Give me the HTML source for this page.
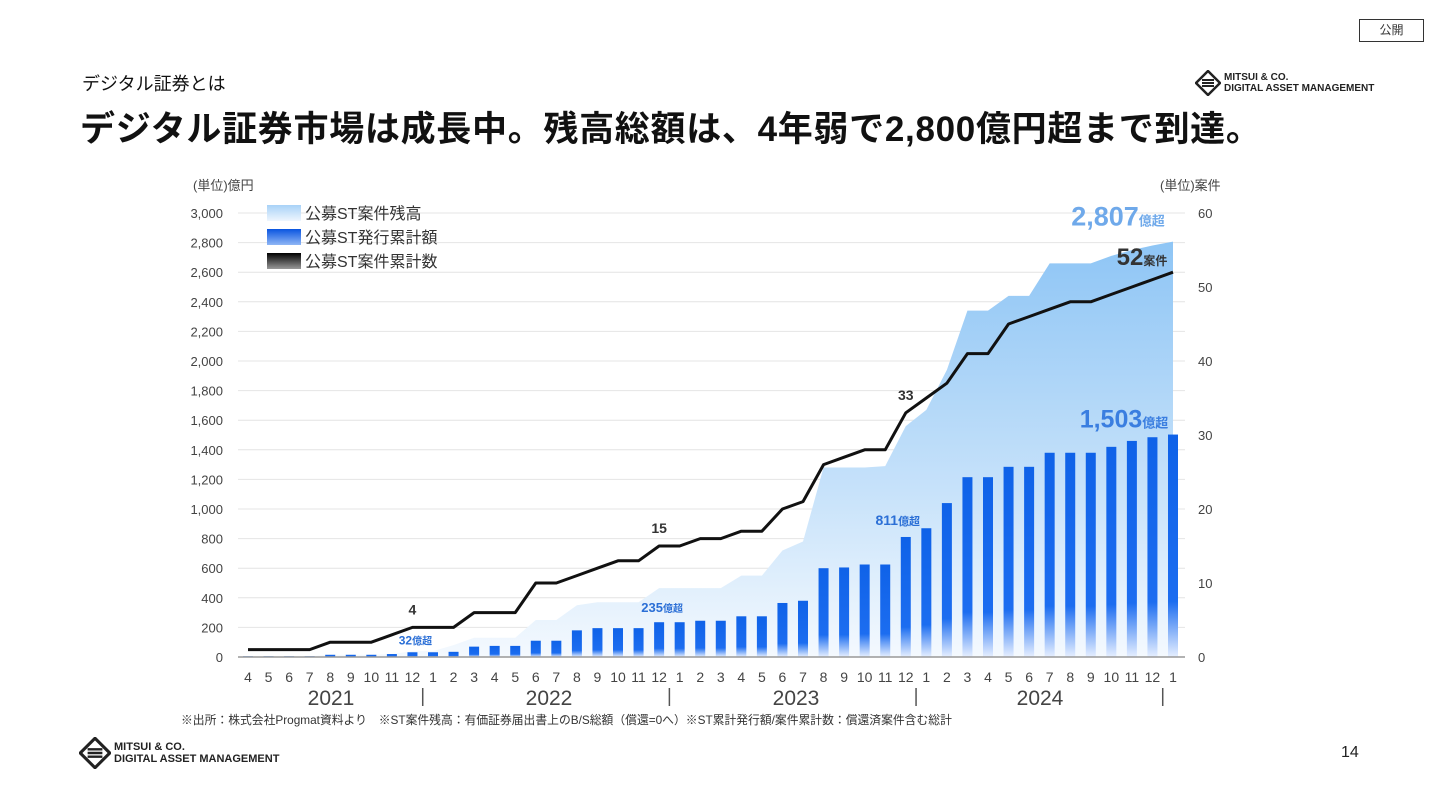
<!DOCTYPE html>
<html><head><meta charset="utf-8">
<style>
body{margin:0;width:1440px;height:810px;background:#fff;font-family:"Liberation Sans","Noto Sans CJK JP",sans-serif;position:relative;overflow:hidden}
.abs{position:absolute}
</style></head><body>
<div class="abs" style="left:1359px;top:19px;width:65px;height:23px;border:1px solid #333;box-sizing:border-box;font-size:12px;text-align:center;line-height:21px;color:#333">公開</div>
<div class="abs" style="left:82px;top:70px;font-size:18px;color:#111">デジタル証券とは</div>
<div class="abs" style="left:80px;top:101px;font-size:35px;font-weight:bold;color:#111;letter-spacing:0.7px">デジタル証券市場は成長中。残高総額は、4年弱で2,800億円超まで到達。</div>
<div class="abs" style="left:1195px;top:70px;display:flex;align-items:center">
<svg width="26" height="26" viewBox="0 0 26 26"><path d="M13 1L25 13L13 25L1 13Z" fill="none" stroke="#222" stroke-width="2.5"/><path d="M7 10H19M7 13H19M7 16H19" stroke="#222" stroke-width="2"/></svg>
<div style="font-size:10px;font-weight:bold;line-height:11px;margin-left:3px;color:#222">MITSUI &amp; CO.<br>DIGITAL ASSET MANAGEMENT</div></div>
<div class="abs" style="left:79px;top:737px;display:flex;align-items:center">
<svg width="32" height="32" viewBox="0 0 26 26"><path d="M13 1L25 13L13 25L1 13Z" fill="none" stroke="#222" stroke-width="2.5"/><path d="M7 10H19M7 13H19M7 16H19" stroke="#222" stroke-width="2"/></svg>
<div style="font-size:11px;font-weight:bold;line-height:12px;margin-left:3px;color:#222">MITSUI &amp; CO.<br>DIGITAL ASSET MANAGEMENT</div></div>
<div class="abs" style="left:1341px;top:744px;font-size:16px;color:#222">14</div>
<div class="abs" style="left:181px;top:711px;font-size:11.8px;color:#333">※出所：株式会社Progmat資料より　※ST案件残高：有価証券届出書上のB/S総額（償還=0へ）※ST累計発行額/案件累計数：償還済案件含む総計</div>
<svg id="chart" class="abs" style="left:0;top:0" width="1440" height="810">
<defs>
<linearGradient id="ga" x1="0" y1="0" x2="0" y2="1"><stop offset="0" stop-color="#8ec5f5"/><stop offset="0.6" stop-color="#c7e2fa"/><stop offset="1" stop-color="#f4f9fe"/></linearGradient>
<linearGradient id="gb" x1="0" y1="0" x2="0" y2="1"><stop offset="0" stop-color="#0f62e8"/><stop offset="0.75" stop-color="#1c6df0"/><stop offset="1" stop-color="#e6efff"/></linearGradient>
<linearGradient id="gl1" x1="0" y1="0" x2="0" y2="1"><stop offset="0" stop-color="#a8d2f7"/><stop offset="1" stop-color="#eef6fe"/></linearGradient>
<linearGradient id="gl2" x1="0" y1="0" x2="0" y2="1"><stop offset="0" stop-color="#0a55e0"/><stop offset="1" stop-color="#8fb6f5"/></linearGradient>
<linearGradient id="gl3" x1="0" y1="0" x2="0" y2="1"><stop offset="0" stop-color="#000"/><stop offset="1" stop-color="#999"/></linearGradient>
</defs>
</svg>
<script>
const months=[4,5,6,7,8,9,10,11,12,1,2,3,4,5,6,7,8,9,10,11,12,1,2,3,4,5,6,7,8,9,10,11,12,1,2,3,4,5,6,7,8,9,10,11,12,1];
const years=["2021","2022","2023","2024"];
const issued=[5,5,5,5,15,15,15,20,32,32,35,70,75,75,110,110,180,195,195,195,235,235,245,245,275,275,365,380,600,605,625,625,811,870,1040,1215,1215,1285,1285,1380,1380,1380,1420,1460,1485,1503];
const balance=[5,5,5,5,15,15,15,20,40,40,80,130,130,130,250,250,350,370,370,370,465,465,465,465,550,550,720,780,1280,1280,1280,1290,1560,1670,1940,2340,2340,2440,2440,2660,2660,2660,2710,2750,2780,2807];
const count=[1,1,1,1,2,2,2,3,4,4,4,6,6,6,10,10,11,12,13,13,15,15,16,16,17,17,20,21,26,27,28,28,33,35,37,41,41,45,46,47,48,48,49,50,51,52];
const leftTicks=[0,200,400,600,800,1000,1200,1400,1600,1800,2000,2200,2400,2600,2800,3000];
const rightTicks=[0,10,20,30,40,50,60];
const svg=document.getElementById('chart');const NS='http://www.w3.org/2000/svg';
const X0=248,X1=1173,Y0=657,Y1=213;
const x=i=>X0+(X1-X0)*i/(months.length-1);
const yl=v=>Y0-(Y0-Y1)*v/3000;
const yr=v=>Y0-(Y0-Y1)*v/60;
function mk(t,a,txt){const e=document.createElementNS(NS,t);for(const k in a)e.setAttribute(k,a[k]);if(txt!=null)e.textContent=txt;svg.appendChild(e);return e;}
const F='"Liberation Sans","Noto Sans CJK JP",sans-serif';
leftTicks.forEach(v=>{
 const g=mk('line',{x1:238,x2:1185,y1:yl(v),y2:yl(v),stroke:'#e4e4e4','stroke-width':1});
 
 
 const t=mk('text',{x:223,y:yl(v)+5,'text-anchor':'end','font-size':13,fill:'#444','font-family':F},v.toLocaleString('en-US'));
 
 
});
rightTicks.forEach(v=>{
 const t=mk('text',{x:1198,y:yr(v)+5,'font-size':13,fill:'#444','font-family':F},String(v));
 
 
});
let ap='M'+x(0)+','+Y0;balance.forEach((v,i)=>ap+=' L'+x(i)+','+yl(v));ap+=' L'+x(balance.length-1)+','+Y0+'Z';
const area=mk('path',{d:ap,fill:'url(#ga)'});


issued.forEach((v,i)=>{
 const r=mk('rect',{x:x(i)-5,y:yl(v),width:10,height:Y0-yl(v),fill:'url(#gb)'});
 
 
});
const ax=mk('line',{x1:238,x2:1185,y1:Y0,y2:Y0,stroke:'#999','stroke-width':1.5});


let lp='';count.forEach((v,i)=>lp+=(i?' L':'M')+x(i)+','+yr(v));
const ln=mk('path',{d:lp,fill:'none',stroke:'#111','stroke-width':3,'stroke-linejoin':'round'});


months.forEach((m,i)=>{
 const t=mk('text',{x:x(i),y:682,'text-anchor':'middle','font-size':14,fill:'#444','font-family':F},String(m));
 
 
});
const yc=[331,549,796,1040];
years.forEach((yv,i)=>{
 const t=mk('text',{x:yc[i],y:705,'text-anchor':'middle','font-size':21,fill:'#444','font-family':F},yv);
 
 
});
[8.5,20.5,32.5,44.5].forEach(i=>{const s=mk('line',{x1:x(i),x2:x(i),y1:688,y2:706,stroke:'#555','stroke-width':1.5});
 
 });
function note(t,xx,yy,size,col,small,nm){const e=mk('text',{x:xx,y:yy,'font-size':size,fill:col,'font-weight':'bold','font-family':F,'text-anchor':'middle'});e.innerHTML=t+'<tspan font-size="'+small+'">'+nm+'</tspan>';}
note('32',x(8)+3,yl(issued[8])-8,12,'#2b6fd6',10,'億超');
note('235',x(20)+3,yl(issued[20])-10,13,'#2b6fd6',10,'億超');
note('811',x(32)-8,yl(issued[32])-12,14,'#2b6fd6',11,'億超');
note('1,503',1124,yl(issued[45])-7,25,'#3a7ee0',13,'億超');
note('2,807',1118,yl(balance[45])-16,27,'#6fa9ea',13,'億超');
note('52',1142,yr(52)-7,24,'#333',12,'案件');
[['4',8],['15',20],['33',32]].forEach(([t,i])=>{const e=mk('text',{x:x(i),y:yr(count[i])-13,'text-anchor':'middle','font-size':14,'font-weight':'bold',fill:'#333','font-family':F},t);});
const u1=mk('text',{x:193,y:190,'font-size':13,fill:'#444','font-family':F},'(単位)億円');
const u2=mk('text',{x:1160,y:190,'font-size':13,fill:'#444','font-family':F},'(単位)案件');
[['url(#gl1)','公募ST案件残高'],['url(#gl2)','公募ST発行累計額'],['url(#gl3)','公募ST案件累計数']].forEach(([c,t],i)=>{
 const r=mk('rect',{x:267,y:205+i*24,width:34,height:16,fill:c});
 
 
 const tt=mk('text',{x:305,y:219+i*24,'font-size':16,fill:'#333','font-family':F},t);
 
 
});
</script>
</body></html>
